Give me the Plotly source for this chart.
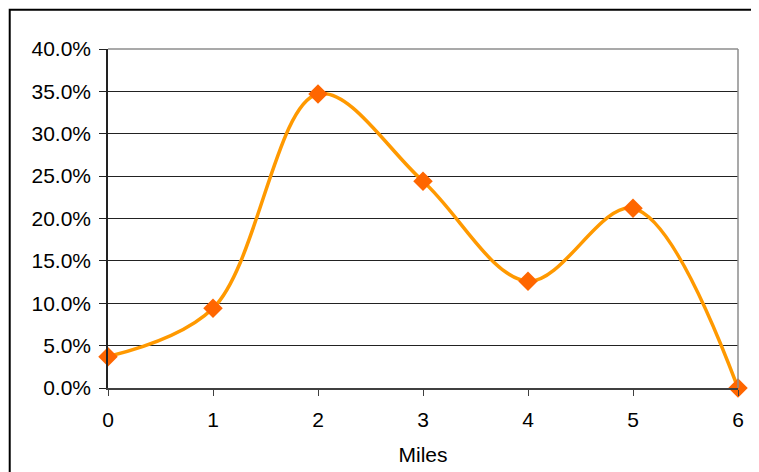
import plotly.graph_objects as go

miles = [0, 1, 2, 3, 4, 5, 6]
share = [0.037, 0.094, 0.347, 0.244, 0.126, 0.212, 0.0]

fig = go.Figure()

fig.add_trace(go.Scatter(
    x=miles,
    y=share,
    mode='lines',
    line=dict(color='#FF9900', width=3.5, shape='spline', smoothing=1),
    cliponaxis=False,
    showlegend=False
))
fig.add_trace(go.Scatter(
    x=miles,
    y=share,
    mode='markers',
    marker=dict(symbol='diamond', color='#FF6600', size=15),
    cliponaxis=False,
    showlegend=False
))

# plot area border (top/right) and outer chart border
fig.add_shape(type='line', xref='paper', yref='paper', x0=0, x1=1, y0=1, y1=1,
              line=dict(color='#8c8c8c', width=1.5))
fig.add_shape(type='line', xref='paper', yref='paper', x0=1, x1=1, y0=0, y1=1,
              line=dict(color='#8c8c8c', width=1.5))
fig.add_shape(type='rect', xref='paper', yref='paper', x0=-0.156, x1=1.2, y0=-0.4, y1=1.116,
              line=dict(color='black', width=2))

# page body has an 8px margin, so margins are shifted to compensate
fig.update_layout(
    width=759, height=472,
    paper_bgcolor='white',
    plot_bgcolor='white',
    margin=dict(l=100, r=29, t=41, b=92),
    font=dict(family='Liberation Sans, Arial', size=21, color='black'),
    xaxis=dict(
        range=[0, 6], tickvals=miles, showgrid=False, zeroline=False,
        showline=True, linecolor='#404040', linewidth=1.5,
        ticks='outside', ticklen=6, tickcolor='#404040',
        ticklabelstandoff=6,
        title=dict(text='Miles', standoff=17, font=dict(size=21))
    ),
    yaxis=dict(
        range=[0, 0.4], dtick=0.05, tickformat='.1%',
        showgrid=True, gridcolor='#222222', gridwidth=1, zeroline=False,
        showline=True, linecolor='#222222', linewidth=1.5,
        ticks='outside', ticklen=7, tickcolor='#222222',
        ticklabelstandoff=4
    )
)

fig.write_html("out.html")
